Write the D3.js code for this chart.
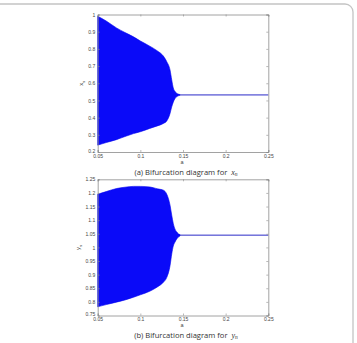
<!DOCTYPE html>
<html>
<head>
<meta charset="utf-8">
<style>
  body { margin: 0; background: #fff; }
  svg text { font-family: "Liberation Sans", Arial, sans-serif; }
</style>
</head>
<body>
<div id="chart"></div>
<script src="https://cdnjs.cloudflare.com/ajax/libs/d3/7.8.5/d3.min.js"></script>
<script>
var W = 357, H = 343;

// parameter a where the oscillation band is traced
var aBand = [0.05, 0.06, 0.072, 0.082, 0.092, 0.1, 0.111, 0.12, 0.127, 0.131, 0.1348, 0.1368, 0.1386, 0.1405, 0.1425, 0.1445, 0.1465];
var xUpper = [0.99, 0.962, 0.922, 0.895, 0.870, 0.846, 0.816, 0.788, 0.758, 0.725, 0.677, 0.619, 0.573, 0.553, 0.542, 0.537, 0.534];
var xLower = [0.24, 0.255, 0.272, 0.29, 0.307, 0.318, 0.337, 0.352, 0.366, 0.381, 0.424, 0.463, 0.49, 0.51, 0.521, 0.527, 0.530];
var yUpper = [1.195, 1.205, 1.216, 1.221, 1.224, 1.224, 1.222, 1.215, 1.21, 1.195, 1.155, 1.118, 1.088, 1.068, 1.057, 1.05, 1.047];
var yLower = [0.782, 0.79, 0.799, 0.807, 0.817, 0.826, 0.839, 0.855, 0.872, 0.89, 0.933, 0.976, 1.005, 1.019, 1.03, 1.038, 1.042];

// stable branch after the band collapses
var aStable = [0.1465, 0.25];
var xStable = [0.532, 0.532];
var yStable = [1.045, 1.045];

var xTicks = [0.05, 0.1, 0.15, 0.2, 0.25];
var xTickLabels = ["0.05", "0.1", "0.15", "0.2", "0.25"];
var xnTicks = [0.2, 0.3, 0.4, 0.5, 0.6, 0.7, 0.8, 0.9, 1];
var ynTicks = [0.75, 0.8, 0.85, 0.9, 0.95, 1, 1.05, 1.1, 1.15, 1.2, 1.25];

var svg = d3.select("#chart").append("svg").attr("width", W).attr("height", H);
svg.append("rect").attr("width", W).attr("height", H).attr("fill", "#fff");

// card frame
svg.append("rect")
  .attr("x", -10).attr("y", 4).attr("width", 363).attr("height", 360).attr("rx", 8)
  .attr("fill", "none").attr("stroke", "#c4c4c4").attr("stroke-width", 1.3);

function panel(top, bottom, yDomain, yTicks, upper, lower, stable, yName, yLabelX, tag, capY) {
  var left = 97.7, right = 268.3;
  var x = d3.scaleLinear().domain([0.05, 0.25]).range([left, right]);
  var y = d3.scaleLinear().domain(yDomain).range([bottom, top]);
  var g = svg.append("g");

  var band = aBand.map(function (a, i) { return { a: a, hi: upper[i], lo: lower[i] }; });
  g.append("path")
    .datum(band)
    .attr("fill", "#0a0af8")
    .attr("stroke", "#0000f0")
    .attr("stroke-width", 0.6)
    .attr("d", d3.area()
      .x(function (d) { return x(d.a); })
      .y0(function (d) { return y(d.lo); })
      .y1(function (d) { return y(d.hi); })
      .curve(d3.curveMonotoneX));

  g.append("path")
    .datum(aStable.map(function (a, i) { return [a, stable[i]]; }))
    .attr("fill", "none")
    .attr("stroke", "#2a2ac8")
    .attr("stroke-width", 1)
    .attr("d", d3.line().x(function (d) { return x(d[0]); }).y(function (d) { return y(d[1]); }));

  var fmt = function (d) { return String(+d.toFixed(2)); };
  var axes = [
    [d3.axisBottom(x).tickValues(xTicks).tickSize(-2).tickPadding(2.2).tickFormat(function (d, i) { return xTickLabels[i]; }), "translate(0," + bottom + ")"],
    [d3.axisTop(x).tickValues(xTicks).tickSize(-2).tickFormat(""), "translate(0," + top + ")"],
    [d3.axisLeft(y).tickValues(yTicks).tickSize(-2).tickPadding(2.5).tickFormat(fmt), "translate(" + left + ",0)"],
    [d3.axisRight(y).tickValues(yTicks).tickSize(-2).tickFormat(""), "translate(" + right + ",0)"]
  ];
  axes.forEach(function (ax, k) {
    var a = g.append("g").attr("transform", ax[1]).call(ax[0]);
    a.select(".domain").attr("stroke", "#8a8a8a").attr("stroke-width", 0.8);
    a.selectAll(".tick line").attr("stroke", "#8a8a8a").attr("stroke-width", 0.6);
    a.selectAll("text").attr("font-size", 5).attr("fill", "#444").style("font-family", "'Liberation Sans', Arial, sans-serif");
    if (k === 2) {
      // lowest y label sits a touch higher so it clears the first x label
      a.selectAll(".tick text").filter(function (d) { return d === yDomain[0]; }).attr("dy", "0.05em");
    }
  });

  g.append("text").attr("x", 182).attr("y", bottom + 11.8)
    .attr("text-anchor", "middle").attr("font-size", 5.5).attr("fill", "#444").text("a");

  var yl = g.append("text")
    .attr("transform", "translate(" + yLabelX + "," + (top + bottom) / 2 + ") rotate(-90)")
    .attr("text-anchor", "middle").attr("font-size", 6).attr("fill", "#444");
  yl.append("tspan").text(yName);
  yl.append("tspan").attr("font-size", 4).attr("dy", 1.5).text("n");

  var cap = svg.append("text").attr("x", 186).attr("y", capY)
    .attr("text-anchor", "middle").attr("fill", "#333").attr("font-size", 7.6)
    .style("font-family", "'Open Sans', 'Noto Sans', sans-serif");
  cap.append("tspan").text("(" + tag + ") Bifurcation diagram for \u00a0");
  cap.append("tspan").style("font-family", "'Liberation Serif', serif").attr("font-style", "italic").attr("font-size", 8).text(yName);
  cap.append("tspan").style("font-family", "'Liberation Serif', serif").attr("font-style", "italic").attr("font-size", 5.5).attr("dy", 1.6).text("n");
}

panel(14.5, 152, [0.2, 1], xnTicks, xUpper, xLower, xStable, "x", 83, "a", 174.5);
panel(179.3, 315.5, [0.75, 1.25], ynTicks, yUpper, yLower, yStable, "y", 80, "b", 337.5);
</script>
</body>
</html>
